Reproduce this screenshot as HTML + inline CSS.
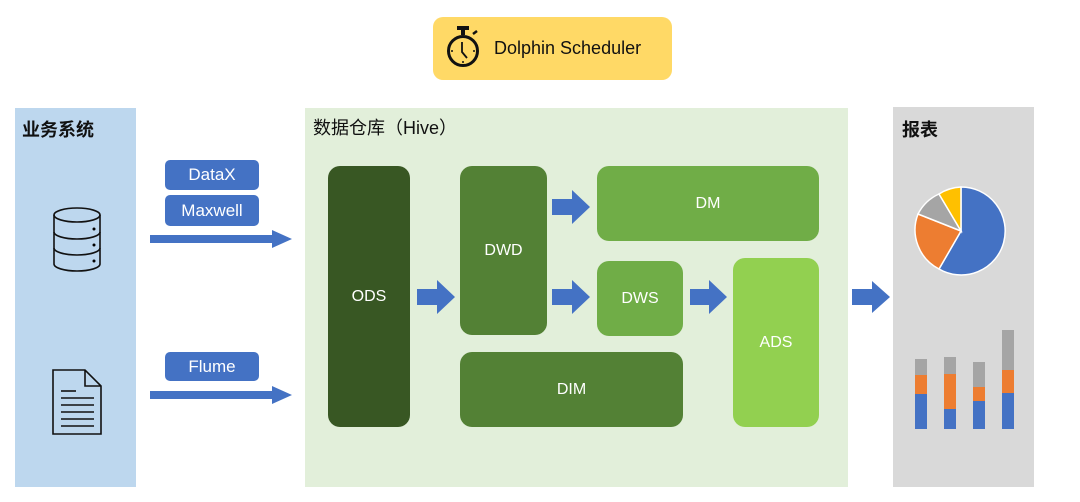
<!DOCTYPE html>
<html><head><meta charset="utf-8"><style>
body{margin:0;width:1080px;height:502px;background:#fff;position:relative;overflow:hidden;font-family:"Liberation Sans","Noto Sans CJK SC",sans-serif}
.a{position:absolute}
.b{position:absolute;display:flex;align-items:center;justify-content:center;color:#fff;font-size:16px;border-radius:12px}
.tag{position:absolute;background:#4472c4;color:#fff;border-radius:5px;display:flex;align-items:center;justify-content:center;font-size:17px}
.t{position:absolute;font-size:18px;font-weight:bold;color:#111}
</style></head><body>
<div class="a" style="left:433px;top:17px;width:239px;height:63px;background:#ffd966;border-radius:10px"></div>
<svg class="a" style="left:443px;top:24px" width="40" height="50" viewBox="0 0 40 50">
<rect x="14" y="2" width="12" height="4" fill="#111"/><rect x="18" y="5" width="4" height="6" fill="#111"/>
<line x1="30" y1="10" x2="34" y2="7" stroke="#111" stroke-width="2.5"/>
<circle cx="20" cy="27" r="14.5" fill="none" stroke="#111" stroke-width="3"/>
<path d="M19 18 L19 28 L24 34" fill="none" stroke="#111" stroke-width="1.8"/>
<circle cx="9" cy="27" r="1" fill="#111"/><circle cx="31" cy="27" r="1" fill="#111"/><circle cx="20" cy="38" r="1" fill="#111"/>
</svg>
<div class="a" style="left:494px;top:38px;font-size:18px;color:#111">Dolphin Scheduler</div>

<div class="a" style="left:15px;top:108px;width:121px;height:379px;background:#bdd7ee"></div>
<div class="t" style="left:22px;top:116px">业务系统</div>
<svg class="a" style="left:50px;top:205px" width="56" height="70" viewBox="0 0 56 70">
<g fill="none" stroke="#111" stroke-width="1.6">
<ellipse cx="27" cy="10" rx="23" ry="7"/>
<path d="M4 10 V59 A23 7 0 0 0 50 59 V10"/>
<path d="M4 27 A23 7 0 0 0 50 27"/><path d="M4 43 A23 7 0 0 0 50 43"/></g>
<circle cx="44" cy="24" r="1.5"/><circle cx="44" cy="40" r="1.5"/><circle cx="44" cy="56" r="1.5"/>
</svg>
<svg class="a" style="left:52px;top:369px" width="52" height="68" viewBox="0 0 52 68">
<path d="M1 1 H33 L49 17 V65 H1 Z M33 1 V17 H49" fill="none" stroke="#111" stroke-width="1.6"/>
<g stroke="#111" stroke-width="1.6"><line x1="9" y1="22" x2="24" y2="22"/><line x1="9" y1="29" x2="42" y2="29"/><line x1="9" y1="36" x2="42" y2="36"/><line x1="9" y1="43" x2="42" y2="43"/><line x1="9" y1="50" x2="42" y2="50"/><line x1="9" y1="57" x2="42" y2="57"/></g>
</svg>

<div class="tag" style="left:165px;top:160px;width:94px;height:30px">DataX</div>
<div class="tag" style="left:165px;top:195px;width:94px;height:31px">Maxwell</div>
<div class="tag" style="left:165px;top:352px;width:94px;height:29px">Flume</div>
<svg class="a" style="left:0;top:0" width="1080" height="502">
<path d="M150 235 H272 V230 L292 239 L272 248 V243 H150Z" fill="#4472c4"/>
<path d="M150 391 H272 V386 L292 395 L272 404 V399 H150Z" fill="#4472c4"/>
</svg>

<div class="a" style="left:305px;top:108px;width:543px;height:379px;background:#e2efda"></div>
<div class="a" style="left:313px;top:114px;font-size:18px;color:#111">数据仓库（Hive）</div>
<div class="b" style="left:328px;top:166px;width:82px;height:261px;background:#385723">ODS</div>
<div class="b" style="left:460px;top:166px;width:87px;height:169px;background:#538135">DWD</div>
<div class="b" style="left:597px;top:166px;width:222px;height:75px;background:#70ad47">DM</div>
<div class="b" style="left:597px;top:261px;width:86px;height:75px;background:#70ad47">DWS</div>
<div class="b" style="left:733px;top:258px;width:86px;height:169px;background:#92d050">ADS</div>
<div class="b" style="left:460px;top:352px;width:223px;height:75px;background:#538135">DIM</div>
<svg class="a" style="left:0;top:0" width="1080" height="502">
<g fill="#4472c4">
<path d="M417 289 H437 V280 L455 297 L437 314 V305 H417Z"/>
<path d="M552 199 H572 V190 L590 207 L572 224 V215 H552Z"/>
<path d="M552 289 H572 V280 L590 297 L572 314 V305 H552Z"/>
<path d="M690 289 H709 V280 L727 297 L709 314 V305 H690Z"/>
<path d="M852 289 H872 V281 L890 297 L872 313 V305 H852Z"/>
</g></svg>

<div class="a" style="left:893px;top:107px;width:141px;height:380px;background:#d9d9d9"></div>
<div class="t" style="left:902px;top:116px">报表</div>
<svg class="a" style="left:0;top:0" width="1080" height="502">
<g stroke="#fff" stroke-width="1.5">
<path d="M961 231 L961 187 A44 44 0 1 1 939 269 Z" fill="#4472c4"/>
<path d="M961 231 L939 269 A44 44 0 0 1 918 214 Z" fill="#ed7d31"/>
<path d="M961 231 L918 214 A44 44 0 0 1 939 194 Z" fill="#a5a5a5"/>
<path d="M961 231 L939 194 A44 44 0 0 1 961 187 Z" fill="#ffc000"/>
</g>
<rect x="915" y="359" width="12" height="16" fill="#a5a5a5"/><rect x="915" y="375" width="12" height="19" fill="#ed7d31"/><rect x="915" y="394" width="12" height="35" fill="#4472c4"/>
<rect x="944" y="357" width="12" height="17" fill="#a5a5a5"/><rect x="944" y="374" width="12" height="35" fill="#ed7d31"/><rect x="944" y="409" width="12" height="20" fill="#4472c4"/>
<rect x="973" y="362" width="12" height="25" fill="#a5a5a5"/><rect x="973" y="387" width="12" height="14" fill="#ed7d31"/><rect x="973" y="401" width="12" height="28" fill="#4472c4"/>
<rect x="1002" y="330" width="12" height="40" fill="#a5a5a5"/><rect x="1002" y="370" width="12" height="23" fill="#ed7d31"/><rect x="1002" y="393" width="12" height="36" fill="#4472c4"/>
</svg>
</body></html>
